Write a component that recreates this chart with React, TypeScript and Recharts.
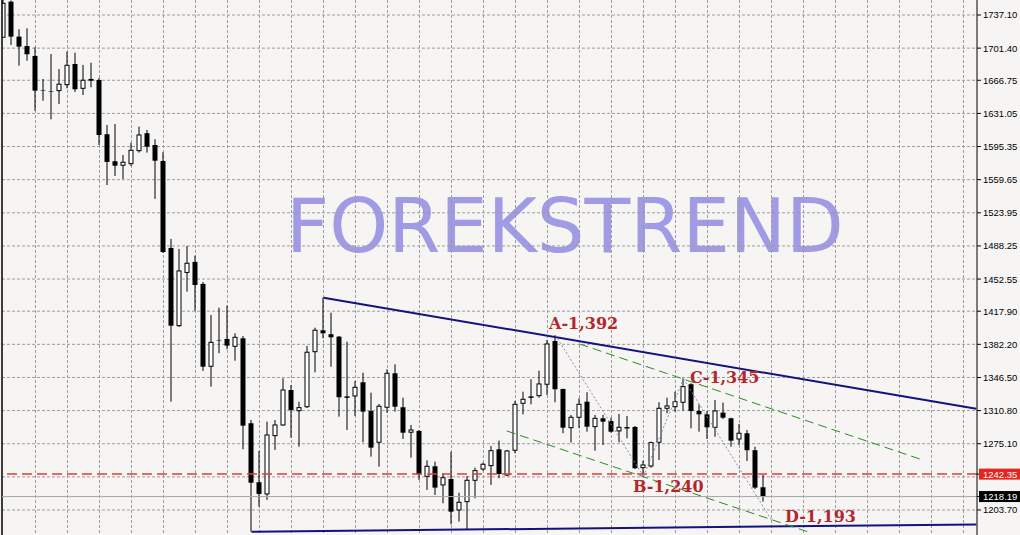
import React from "react";
import {
  ComposedChart,
  Bar,
  XAxis,
  YAxis,
  CartesianGrid,
  ReferenceLine,
  ReferenceDot,
} from "recharts";

// weekly gold candles
const opens = [
  1713.1, 1751.5, 1713.8, 1703.7, 1693.0, 1655.8, 1655.0, 1655.6, 1662.0, 1684.3,
  1658.1, 1668.2, 1667.1, 1608.6, 1579.5, 1575.2, 1576.9, 1590.9, 1609.7, 1597.0,
  1579.8, 1486.1, 1402.3, 1459.7, 1471.0, 1447.3, 1358.6, 1386.9, 1388.0, 1380.1,
  1388.7, 1297.2, 1233.6, 1221.0, 1283.8, 1295.3, 1333.0, 1310.7, 1315.0, 1374.3,
  1397.4, 1393.1, 1390.5, 1325.2, 1326.6, 1341.3, 1310.4, 1276.7, 1314.4, 1351.0,
  1314.4, 1287.5, 1288.9, 1240.0, 1250.8, 1230.7, 1237.1, 1203.7, 1212.7, 1235.7,
  1247.9, 1251.5, 1269.1, 1241.4, 1268.1, 1318.7, 1325.2, 1326.9, 1339.2, 1385.8,
  1334.1, 1292.4, 1303.6, 1320.4, 1293.5, 1302.5, 1299.6, 1288.9, 1292.4, 1293.2,
  1249.3, 1251.1, 1276.7, 1313.3, 1315.0, 1319.8, 1339.2, 1310.4, 1306.8, 1292.8,
  1308.6, 1302.5, 1280.2, 1286.4, 1268.1, 1228.2,
];
const highs = [
  1756.5, 1752.8, 1721.7, 1722.8, 1702.3, 1668.2, 1695.1, 1678.9, 1697.6, 1696.5,
  1683.3, 1685.7, 1669.2, 1618.6, 1619.7, 1586.3, 1599.5, 1616.8, 1613.2, 1603.2,
  1589.2, 1495.8, 1485.0, 1488.2, 1477.8, 1449.4, 1413.9, 1421.7, 1423.9, 1394.1,
  1391.2, 1300.7, 1267.3, 1298.9, 1300.7, 1345.6, 1338.4, 1320.4, 1380.5, 1400.2,
  1432.5, 1416.3, 1391.2, 1385.1, 1342.7, 1351.7, 1330.1, 1317.9, 1355.3, 1360.7,
  1324.7, 1295.3, 1289.9, 1257.3, 1255.8, 1243.3, 1266.5, 1222.4, 1240.4, 1249.3,
  1254.7, 1272.7, 1278.4, 1268.4, 1321.2, 1331.2, 1344.6, 1353.8, 1386.9, 1392.0,
  1334.5, 1306.1, 1324.1, 1330.6, 1306.1, 1306.1, 1303.2, 1307.2, 1305.0, 1294.2,
  1256.9, 1277.4, 1319.8, 1324.7, 1331.2, 1345.6, 1340.3, 1317.6, 1310.4, 1322.3,
  1319.4, 1303.2, 1296.4, 1289.9, 1271.9, 1241.4,
];
const lows = [
  1712.4, 1704.8, 1682.5, 1687.9, 1634.0, 1644.8, 1624.7, 1641.2, 1658.1, 1654.2,
  1650.9, 1659.2, 1597.0, 1553.9, 1563.6, 1560.4, 1574.4, 1588.8, 1588.8, 1538.9,
  1480.7, 1320.4, 1400.9, 1439.0, 1418.5, 1353.5, 1336.6, 1372.6, 1376.9, 1364.6,
  1269.1, 1180.3, 1207.3, 1214.5, 1268.4, 1294.6, 1281.6, 1271.9, 1313.6, 1352.1,
  1388.7, 1358.1, 1304.3, 1289.9, 1305.0, 1276.7, 1261.2, 1250.4, 1308.6, 1309.7,
  1280.2, 1260.1, 1236.1, 1225.3, 1219.9, 1210.9, 1188.3, 1191.1, 1183.2, 1216.3,
  1245.8, 1230.7, 1237.9, 1240.3, 1264.8, 1306.8, 1317.6, 1324.7, 1327.6, 1319.8,
  1286.4, 1276.3, 1291.8, 1288.1, 1267.6, 1273.8, 1287.0, 1276.7, 1281.0, 1247.9,
  1240.7, 1249.3, 1257.6, 1307.9, 1309.7, 1310.7, 1291.8, 1288.1, 1280.2, 1282.7,
  1301.8, 1271.9, 1273.8, 1256.5, 1226.3, 1212.7,
];
const closes = [
  1749.7, 1713.8, 1703.0, 1694.8, 1655.6, 1655.4, 1654.9, 1662.5, 1682.9, 1657.1,
  1666.8, 1666.3, 1607.8, 1578.7, 1574.7, 1578.4, 1591.3, 1607.8, 1595.2, 1580.1,
  1481.7, 1402.3, 1461.3, 1469.6, 1446.2, 1358.1, 1384.4, 1386.5, 1380.8, 1389.8,
  1294.6, 1233.1, 1221.0, 1284.5, 1295.3, 1333.0, 1311.5, 1314.0, 1373.7, 1397.4,
  1394.1, 1389.8, 1325.2, 1325.6, 1335.9, 1309.7, 1270.9, 1315.5, 1351.0, 1315.0,
  1287.0, 1289.9, 1242.2, 1250.8, 1227.8, 1238.5, 1201.9, 1212.0, 1235.7, 1246.1,
  1253.0, 1267.6, 1242.5, 1267.3, 1317.6, 1323.0, 1325.6, 1339.5, 1382.6, 1333.8,
  1292.4, 1303.6, 1317.6, 1293.5, 1302.5, 1298.9, 1288.1, 1292.8, 1292.6, 1248.7,
  1252.2, 1276.3, 1313.3, 1315.8, 1320.4, 1336.6, 1310.4, 1306.8, 1292.8, 1310.4,
  1303.2, 1278.4, 1286.4, 1268.1, 1227.8, 1218.19,
];

// price scale labels and grid
const gridValues = [
  1737.1, 1701.4, 1666.75, 1631.05, 1595.35, 1559.65, 1523.95, 1488.25, 1452.55,
  1417.9, 1382.2, 1346.5, 1310.8, 1275.1, 1239.4, 1203.7,
];
const gridBars = [
  4, 8, 12, 16, 20, 24, 28, 32, 36, 40, 44, 48, 52, 56, 60, 64, 68, 72, 76, 80,
  84, 88, 92, 96, 100, 104, 108, 112, 116, 120,
];
const levelPrice = 1242.35;
const bidPrice = 1218.19;

// trend lines: [start, end]
const resistanceBars = [40, 121.6];
const resistanceValues = [1432.5, 1312.7];
const supportBars = [31, 121.6];
const supportValues = [1180.3, 1188.1];
const channelTopBars = [72, 114.9];
const channelTopValues = [1382.6, 1257.6];
const channelBottomBars = [62.9, 101];
const channelBottomValues = [1288.9, 1178.9];

// A-B-C-D swing points
const pivotNames = ["A", "B", "C", "D"];
const pivotBars = [69, 80, 85, 96];
const pivotValues = [1392, 1240, 1345, 1193];
const pivotOffsets = [
  [-6.5, -6],
  [-10.5, 15.3],
  [6.5, 4.4],
  [13.5, 2],
];

const candles = opens.map((o, i) => ({
  i,
  open: o,
  high: highs[i],
  low: lows[i],
  close: closes[i],
}));

const Candle = (props: any) => {
  const { x, y, width, height, payload } = props;
  if (x == null || !payload) return null;
  const top = Math.min(y, y + height);
  const span = Math.abs(height);
  const { high, low, open, close } = payload;
  const toY = (v: number) => (high === low ? top : top + ((high - v) / (high - low)) * span);
  const cx = x + width / 2;
  const yo = toY(open);
  const yc = toY(close);
  const bodyTop = Math.min(yo, yc);
  const bodyH = Math.max(Math.abs(yo - yc), 0.5);
  const up = close >= open;
  return (
    <g>
      <line x1={cx} x2={cx} y1={top} y2={top + span} stroke="#000" strokeWidth={1} />
      {up ? (
        <rect x={x + 0.5} y={bodyTop} width={width - 1} height={bodyH} fill="#fff" stroke="#000" strokeWidth={1} />
      ) : (
        <rect x={x} y={bodyTop} width={width} height={bodyH} fill="#000" />
      )}
    </g>
  );
};

const AxisTick = (props: any) => {
  const { x, y, payload } = props;
  const v = payload.value as number;
  const txt = v.toFixed(2);
  const font = { fontFamily: "Liberation Sans, Arial, sans-serif", fontSize: 9.5 };
  if (v === levelPrice || v === bidPrice) {
    return (
      <g>
        <rect x={x - 4} y={y - 5.5} width={44} height={11} fill={v === levelPrice ? "#e8231e" : "#000"} />
        <text x={x} y={y} dy={3.5} fill="#fff" {...font}>
          {txt}
        </text>
      </g>
    );
  }
  return (
    <text x={x} y={y} dy={3.5} fill="#000" {...font}>
      {txt}
    </text>
  );
};

const PivotLabel = (props: any) => {
  const { viewBox, text, dx, dy } = props;
  if (!viewBox) return null;
  return (
    <text
      x={viewBox.x + dx}
      y={viewBox.y + dy}
      fill="#b3272b"
      fontFamily="DejaVu Serif, serif"
      fontWeight="bold"
      fontSize={16}
    >
      {text}
    </text>
  );
};

export default function App() {
  const axisTicks = [...gridValues.filter((v) => v !== 1239.4), levelPrice, bidPrice];
  return (
    <div
      style={{
        position: "absolute",
        left: 0,
        top: 0,
        width: 1020,
        height: 535,
        background: "#f6f5f4",
        overflow: "hidden",
      }}
    >
      <div
        style={{
          position: "absolute",
          left: 286,
          top: 189,
          fontFamily: "DejaVu Sans, sans-serif",
          fontSize: 75,
          lineHeight: "75px",
          color: "#a09be4",
          whiteSpace: "nowrap",
        }}
      >
        FOREKSTREND
      </div>
      <div style={{ position: "absolute", left: 0, top: 0 }}>
        <ComposedChart
          width={1020}
          height={535}
          data={candles}
          margin={{ top: 0, right: 0, bottom: 0, left: 2 }}
        >
          <CartesianGrid
            stroke="#9c9c9c"
            strokeDasharray="3 2"
            horizontalValues={gridValues}
            verticalValues={gridBars}
          />
          <XAxis
            type="number"
            dataKey="i"
            domain={[-0.1875, 121.6875]}
            allowDataOverflow
            hide
          />
          <YAxis
            orientation="right"
            type="number"
            domain={[1176.75, 1753.26]}
            allowDataOverflow
            ticks={axisTicks}
            interval={0}
            width={43}
            tickSize={4}
            tickMargin={2}
            axisLine={{ stroke: "#000" }}
            tickLine={{ stroke: "#000" }}
            tick={<AxisTick />}
          />
          <ReferenceLine x={-0.1875} stroke="#000" strokeWidth={1.5} />
          <ReferenceLine y={levelPrice} stroke="#e23a3a" strokeWidth={1.5} strokeDasharray="10 5" />
          <ReferenceLine y={bidPrice} stroke="#a8a8a8" strokeWidth={1} />
          <Bar
            dataKey={(d: any) => [d.low, d.high]}
            barSize={5}
            isAnimationActive={false}
            shape={<Candle />}
          />
          <ReferenceLine
            segment={[
              { x: resistanceBars[0], y: resistanceValues[0] },
              { x: resistanceBars[1], y: resistanceValues[1] },
            ]}
            stroke="#13137f"
            strokeWidth={2}
            ifOverflow="hidden"
          />
          <ReferenceLine
            segment={[
              { x: supportBars[0], y: supportValues[0] },
              { x: supportBars[1], y: supportValues[1] },
            ]}
            stroke="#13137f"
            strokeWidth={2}
            ifOverflow="hidden"
          />
          <ReferenceLine
            segment={[
              { x: channelTopBars[0], y: channelTopValues[0] },
              { x: channelTopBars[1], y: channelTopValues[1] },
            ]}
            stroke="#2e8b22"
            strokeDasharray="9 5"
            ifOverflow="hidden"
          />
          <ReferenceLine
            segment={[
              { x: channelBottomBars[0], y: channelBottomValues[0] },
              { x: channelBottomBars[1], y: channelBottomValues[1] },
            ]}
            stroke="#2e8b22"
            strokeDasharray="9 5"
            ifOverflow="hidden"
          />
          {pivotBars.slice(1).map((b, k) => (
            <ReferenceLine
              key={"zz" + k}
              segment={[
                { x: pivotBars[k], y: pivotValues[k] },
                { x: b, y: pivotValues[k + 1] },
              ]}
              stroke="#8a8ab4"
              strokeDasharray="2 2"
              ifOverflow="hidden"
            />
          ))}
          {pivotNames.map((n, k) => (
            <ReferenceDot
              key={n}
              x={pivotBars[k]}
              y={pivotValues[k]}
              r={0}
              fill="none"
              stroke="none"
              label={
                <PivotLabel
                  text={`${n}-${pivotValues[k].toLocaleString("en-US")}`}
                  dx={pivotOffsets[k][0]}
                  dy={pivotOffsets[k][1]}
                />
              }
            />
          ))}
        </ComposedChart>
      </div>
    </div>
  );
}
